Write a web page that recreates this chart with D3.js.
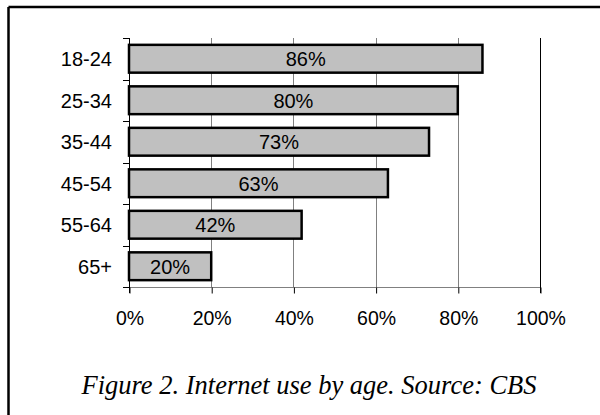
<!DOCTYPE html>
<html>
<head>
<meta charset="utf-8">
<script src="https://cdn.jsdelivr.net/npm/d3@7"></script>
<style>
  html, body { margin: 0; padding: 0; background: #fff; }
  svg { display: block; }
</style>
</head>
<body>
<svg id="chart" width="600" height="415"></svg>
<script>
// Age groups and share of people using the internet
const ageGroups = ["18-24", "25-34", "35-44", "45-54", "55-64", "65+"];
const usageShare = [86, 80, 73, 63, 42, 20];
const tickValues = [0, 20, 40, 60, 80, 100];
const captionText = "Figure 2. Internet use by age. Source: CBS";

(function () {
  const svg = d3.select("#chart");
  const sans = "'Liberation Sans', Arial, sans-serif";

  // Frame (top and left edges)
  svg.append("line").attr("x1", 8.5).attr("x2", 600).attr("y1", 7).attr("y2", 7)
    .attr("stroke", "#000").attr("stroke-width", 2.5);
  svg.append("line").attr("x1", 8.5).attr("x2", 8.5).attr("y1", 7).attr("y2", 415)
    .attr("stroke", "#000").attr("stroke-width", 2.5);

  const plotLeft = 129, plotRight = 540, plotTop = 38, plotBottom = 287;

  const x = d3.scaleLinear().domain([0, 100]).range([plotLeft, plotRight]);
  const y = d3.scaleBand().domain(ageGroups).range([plotTop, plotBottom])
    .paddingInner(0.33).paddingOuter(0.165);

  // Vertical gridlines
  svg.append("g").selectAll("line").data(tickValues.filter(v => v > 0 && v < 100)).join("line")
    .attr("x1", d => Math.round(x(d)) + 0.5).attr("x2", d => Math.round(x(d)) + 0.5)
    .attr("y1", plotTop).attr("y2", plotBottom)
    .attr("stroke", "#808080").attr("stroke-width", 1);

  // Bottom axis line
  svg.append("line").attr("x1", plotLeft).attr("x2", plotRight)
    .attr("y1", plotBottom + 0.5).attr("y2", plotBottom + 0.5)
    .attr("stroke", "#808080").attr("stroke-width", 1);

  // Right edge at 100%
  svg.append("line").attr("x1", x(100) + 0.5).attr("x2", x(100) + 0.5)
    .attr("y1", plotTop).attr("y2", plotBottom + 6)
    .attr("stroke", "#000").attr("stroke-width", 1);

  // X axis ticks and labels
  const xAxis = d3.axisBottom(x).tickValues(tickValues).tickSize(6).tickPadding(18)
    .tickFormat(d => d + "%");
  const gx = svg.append("g").attr("transform", `translate(0.5,${plotBottom + 0.5})`).call(xAxis);
  gx.select(".domain").remove();
  gx.selectAll(".tick line").attr("stroke", "#000");
  gx.selectAll(".tick text").attr("font-family", sans).attr("font-size", 19.5)
    .attr("fill", "#000");

  // Left axis with ticks between categories
  svg.append("line").attr("x1", plotLeft + 0.5).attr("x2", plotLeft + 0.5)
    .attr("y1", plotTop).attr("y2", plotBottom + 6)
    .attr("stroke", "#000").attr("stroke-width", 1);
  const step = y.step();
  const bounds = d3.range(ageGroups.length + 1).map(i => plotTop + i * step);
  svg.append("g").selectAll("line").data(bounds).join("line")
    .attr("x1", plotLeft - 6).attr("x2", plotLeft)
    .attr("y1", d => Math.round(d) + 0.5).attr("y2", d => Math.round(d) + 0.5)
    .attr("stroke", "#000").attr("stroke-width", 1);

  // Category labels
  svg.append("g").selectAll("text").data(ageGroups).join("text")
    .attr("x", 112).attr("y", d => y(d) + y.bandwidth() / 2)
    .attr("dy", "0.38em")
    .attr("text-anchor", "end")
    .attr("font-family", sans).attr("font-size", 20)
    .text(d => d);

  // Bars
  const rows = ageGroups.map((g, i) => ({ group: g, value: usageShare[i] }));
  svg.append("g").selectAll("rect").data(rows).join("rect")
    .attr("x", x(0)).attr("y", d => y(d.group))
    .attr("width", d => x(d.value) - x(0))
    .attr("height", y.bandwidth())
    .attr("fill", "#c0c0c0").attr("stroke", "#000").attr("stroke-width", 2.5);

  // Value labels inside bars
  svg.append("g").selectAll("text").data(rows).join("text")
    .attr("x", d => (x(0) + x(d.value)) / 2)
    .attr("y", d => y(d.group) + y.bandwidth() / 2)
    .attr("dy", "0.38em")
    .attr("text-anchor", "middle")
    .attr("font-family", sans).attr("font-size", 20)
    .text(d => d.value + "%");

  // Caption
  svg.append("text").attr("x", 309).attr("y", 394)
    .attr("text-anchor", "middle")
    .attr("font-family", "'Liberation Serif', 'Times New Roman', serif")
    .attr("font-style", "italic").attr("font-size", 26.5)
    .text(captionText);
})();
</script>
</body>
</html>
